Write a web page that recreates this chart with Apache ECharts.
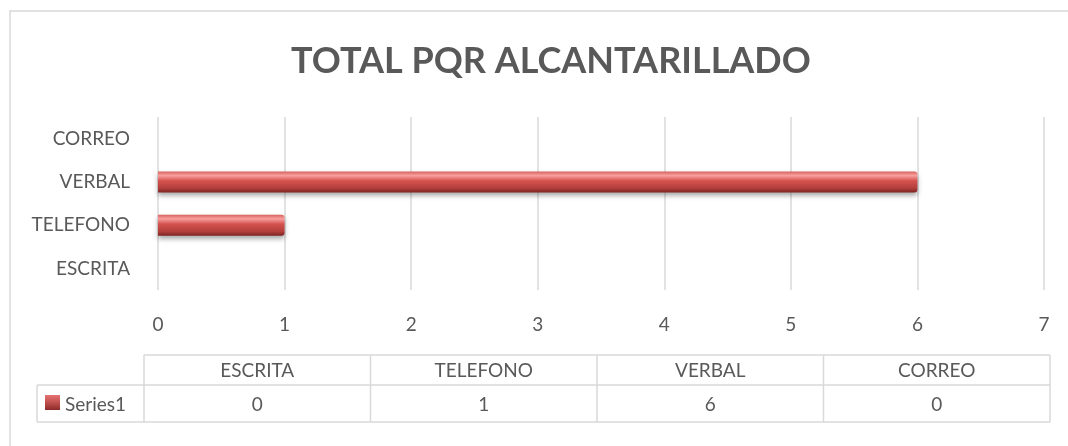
<!DOCTYPE html>
<html>
<head>
<meta charset="utf-8">
<script src="https://cdn.jsdelivr.net/npm/echarts@6/dist/echarts.min.js"></script>
<style>
  html, body { margin: 0; padding: 0; background: #fff; }
  #chart { width: 1068px; height: 446px; }
</style>
</head>
<body>
<div id="chart"></div>
<script>
const titleText = 'TOTAL PQR ALCANTARILLADO';
const categories = ['ESCRITA', 'TELEFONO', 'VERBAL', 'CORREO'];
const seriesName = 'Series1';
const values = [0, 1, 6, 0];

const textColor = '#595959';
const lineColor = '#d9d9d9';
const font = 'Lato, "Open Sans", sans-serif';
const labelSize = 19;

// data table under the chart
const tableLeft = 144, tableRight = 1050, labelLeft = 37;
const headTop = 355, rowTop = 385, rowBottom = 422;
const colW = (tableRight - tableLeft) / categories.length;

function tableGraphic() {
  const els = [];
  const line = (x1, y1, x2, y2) => els.push({
    type: 'line', silent: true,
    shape: { x1, y1, x2, y2 },
    style: { stroke: lineColor, lineWidth: 1.5 }
  });
  line(tableLeft, headTop, tableRight, headTop);
  line(labelLeft, rowTop, tableRight, rowTop);
  line(labelLeft, rowBottom, tableRight, rowBottom);
  line(labelLeft, rowTop, labelLeft, rowBottom);
  for (let i = 0; i <= categories.length; i++) {
    line(tableLeft + i * colW, headTop, tableLeft + i * colW, rowBottom);
  }
  const txt = (text, x, y, align) => els.push({
    type: 'text', silent: true, x, y,
    style: { text, fill: textColor, font: labelSize + 'px ' + font, align, verticalAlign: 'middle' }
  });
  categories.forEach((c, i) => {
    txt(c, tableLeft + (i + 0.5) * colW, (headTop + rowTop) / 2 + 1, 'center');
    txt(String(values[i]), tableLeft + (i + 0.5) * colW, (rowTop + rowBottom) / 2 + 1, 'center');
  });
  els.push({
    type: 'rect', silent: true,
    shape: { x: 45, y: 395, width: 15, height: 15 },
    style: {
      fill: new echarts.graphic.LinearGradient(0, 0, 0, 1, [
        { offset: 0, color: '#e57373' }, { offset: 0.5, color: '#c0504d' }, { offset: 1, color: '#8c2b2b' }
      ])
    }
  });
  txt(seriesName, 65, (rowTop + rowBottom) / 2 + 1, 'left');
  // outer chart border (cropped at right and bottom)
  els.push({
    type: 'rect', silent: true,
    shape: { x: 10, y: 11, width: 1200, height: 600 },
    style: { fill: 'none', stroke: lineColor, lineWidth: 1.5 }
  });
  return els;
}

const chart = echarts.init(document.getElementById('chart'));
chart.setOption({
  animation: false,
  title: {
    text: titleText,
    left: 286,
    top: 38,
    textStyle: { color: textColor, fontSize: 36, fontWeight: 'bold', fontFamily: font }
  },
  grid: { left: 158, right: 24, top: 117, bottom: 156 },
  xAxis: {
    type: 'value',
    min: 0, max: 7, interval: 1,
    axisLine: { show: false },
    axisTick: { show: false },
    axisLabel: { color: textColor, fontSize: labelSize, fontFamily: font, margin: 25 },
    splitLine: { lineStyle: { color: lineColor, width: 1.5 } }
  },
  yAxis: {
    type: 'category',
    data: categories,
    axisLine: { show: false },
    axisTick: { show: false },
    axisLabel: { color: textColor, fontSize: labelSize, fontFamily: font, margin: 28 }
  },
  series: [{
    name: seriesName,
    type: 'bar',
    data: values,
    barWidth: 21,
    itemStyle: {
      color: new echarts.graphic.LinearGradient(0, 0, 0, 1, [
        { offset: 0, color: '#d9605c' },
        { offset: 0.2, color: '#f7a09e' },
        { offset: 0.45, color: '#d4524e' },
        { offset: 0.8, color: '#b33e3b' },
        { offset: 1, color: '#7d2523' }
      ]),
      borderRadius: [0, 3, 3, 0],
      shadowColor: 'rgba(0,0,0,0.35)',
      shadowBlur: 5,
      shadowOffsetY: 3
    }
  }],
  graphic: tableGraphic()
});
</script>
</body>
</html>
